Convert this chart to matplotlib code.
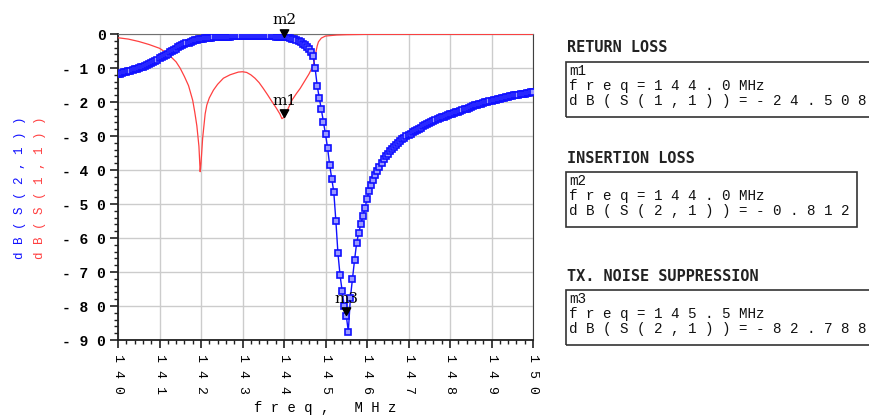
import numpy as np
import matplotlib
matplotlib.use('Agg')
import matplotlib.pyplot as plt
from matplotlib.patches import Rectangle
from matplotlib.ticker import MultipleLocator, FixedLocator, FixedFormatter

# frequency grid of the S21 sweep (MHz)
freq21 = np.round(np.arange(140.0, 150.001, 0.05), 2)

# dB(S(2,1)), one value per freq21 point
s21 = [
    -11.8, -11.7, -11.5, -11.3, -11.2, -11.0, -10.8, -10.6, -10.4, -10.2,
    -10.0, -9.8, -9.6, -9.3, -9.1, -8.8, -8.5, -8.2, -7.9, -7.5,
    -7.2, -6.8, -6.5, -6.1, -5.8, -5.4, -5.0, -4.6, -4.3, -3.9,
    -3.6, -3.3, -3.0, -2.7, -2.5, -2.3, -2.1, -1.9, -1.7, -1.6,
    -1.5, -1.4, -1.3, -1.2, -1.1, -1.1, -1.0, -1.0, -0.9, -0.9,
    -0.9, -0.8, -0.8, -0.8, -0.8, -0.7, -0.7, -0.7, -0.7, -0.7,
    -0.7, -0.7, -0.7, -0.7, -0.7, -0.7, -0.7, -0.7, -0.7, -0.7,
    -0.7, -0.7, -0.7, -0.7, -0.7, -0.7, -0.8, -0.8, -0.8, -0.8,
    -0.8, -0.9, -1.0, -1.2, -1.4, -1.6, -1.8, -2.0, -2.4, -2.8,
    -3.2, -3.8, -4.5, -5.4, -6.6, -10.1, -15.2, -18.8, -22.2, -25.8,
    -29.5, -33.5, -38.5, -42.5, -46.5, -55.0, -64.5, -70.9, -75.5, -80.0,
    -82.8, -87.5, -77.5, -72.0, -66.5, -61.5, -58.5, -56.0, -53.5, -51.3,
    -48.5, -46.2, -44.5, -42.9, -41.5, -40.2, -39.0, -37.9, -36.9, -36.0,
    -35.2, -34.5, -33.8, -33.2, -32.6, -32.0, -31.5, -31.0, -30.5, -30.1,
    -29.7, -29.3, -28.9, -28.5, -28.2, -27.8, -27.5, -27.2, -26.9, -26.6,
    -26.3, -26.0, -25.7, -25.4, -25.1, -24.8, -24.5, -24.3, -24.0, -23.8,
    -23.6, -23.4, -23.2, -23.0, -22.8, -22.6, -22.4, -22.2, -22.0, -21.8,
    -21.4, -21.2, -21.0, -20.8, -20.6, -20.5, -20.3, -20.1, -19.9, -19.8,
    -19.6, -19.4, -19.3, -19.1, -19.0, -18.8, -18.7, -18.6, -18.4, -18.3,
    -18.2, -18.0, -17.9, -17.8, -17.7, -17.6, -17.5, -17.4, -17.3, -17.2,
    -17.2,
]

# dB(S(1,1))
freq11 = [140.0, 140.25, 140.5, 140.75, 141.0, 141.2, 141.4, 141.5, 141.6, 141.7,
          141.8, 141.85, 141.9, 141.95, 141.98, 142.0, 142.04, 142.1, 142.14, 142.2,
          142.3, 142.4, 142.54, 142.7, 142.9, 143.0, 143.1, 143.2, 143.3, 143.4,
          143.5, 143.6, 143.7, 143.82, 143.9, 143.95, 144.0, 144.05, 144.1, 144.2,
          144.3, 144.39, 144.5, 144.6, 144.67, 144.72, 144.75, 144.8, 144.83, 144.9,
          145.0, 145.27, 145.5, 146.0, 147.0, 148.0, 149.0, 150.0]
s11 = [-1.1, -1.5, -2.2, -3.1, -4.2, -5.8, -8.2, -10.1, -12.5, -15.2,
       -19.5, -23.0, -27.0, -33.0, -40.5, -38.0, -30.6, -23.5, -20.9, -18.8,
       -16.5, -14.8, -13.0, -12.0, -11.2, -11.1, -11.3, -12.0, -13.0, -14.3,
       -16.0, -17.8, -19.7, -21.9, -23.5, -24.9, -24.5, -23.5, -21.9, -19.3,
       -17.5, -16.0, -13.8, -11.8, -10.1, -8.5, -6.5, -3.5, -2.3, -1.2,
       -0.6, -0.3, -0.2, -0.1, -0.1, -0.1, -0.1, -0.1]

# markers: name, freq, value, trace
mk_names = ['m1', 'm2', 'm3']
mk_freq = [144.0, 144.0, 145.5]
mk_vals = [-24.508, -0.812, -82.788]
mk_traces = ['dB(S(1,1))', 'dB(S(2,1))', 'dB(S(2,1))']
mk_titles = ['RETURN LOSS', 'INSERTION LOSS', 'TX. NOISE SUPPRESSION']

xticks = list(range(140, 151))
yticks = list(range(0, -91, -10))
ytick_labels = ['0', '- 1 0', '- 2 0', '- 3 0', '- 4 0', '- 5 0', '- 6 0', '- 7 0', '- 8 0', '- 9 0']
xtick_labels = [' '.join(str(v)) for v in xticks]


def spaced(s):
    return ' '.join(s)


BLUE = '#1010ff'
RED = '#ff4040'

fig = plt.figure(figsize=(8.7, 4.19), dpi=100)
ax = fig.add_axes([118 / 870, 1 - 340 / 419, (533 - 118) / 870, (340 - 34) / 419])

ax.plot(freq11, s11, color=RED, lw=0.9, zorder=3)
ax.plot(freq21, s21, color=BLUE, lw=1.0, marker='s', markersize=4.6,
        markerfacecolor='#9a9aff', markeredgecolor=BLUE, markeredgewidth=1.2, zorder=4)

tri = [(0, 0), (-0.55, 1), (0.55, 1), (0, 0)]
for name, f, v in zip(mk_names, mk_freq, mk_vals):
    ax.plot([f], [v], marker=tri, markersize=11, color='black', zorder=6, clip_on=False)
    ax.annotate(name, (f, v), xytext=(0, 7), textcoords='offset points',
                ha='center', va='bottom', fontsize=11, family='DejaVu Serif', zorder=7,
                annotation_clip=False)

ax.set_xlim(140, 150)
ax.set_ylim(-90, 0)
ax.xaxis.set_major_locator(FixedLocator(xticks))
ax.xaxis.set_major_formatter(FixedFormatter(xtick_labels))
ax.yaxis.set_major_locator(FixedLocator(yticks))
ax.yaxis.set_major_formatter(FixedFormatter(ytick_labels))
ax.xaxis.set_minor_locator(MultipleLocator(0.2))
ax.yaxis.set_minor_locator(MultipleLocator(2))
ax.tick_params(which='major', direction='out', length=6, width=1.2, color='#202020')
ax.tick_params(which='minor', direction='out', length=3, width=1.0, color='#202020')
ax.tick_params(axis='x', which='major', pad=4, labelrotation=270)
ax.tick_params(axis='y', which='major', pad=3)
for lab in ax.get_xticklabels():
    lab.set_family('Liberation Mono')
    lab.set_fontsize(9.5)
    lab.set_va('top')
for lab in ax.get_yticklabels():
    lab.set_family('Liberation Mono')
    lab.set_fontsize(10.5)
    lab.set_fontweight('bold')
ax.grid(True, which='major', color='#cccccc', lw=1.0)
ax.set_axisbelow(True)
for side in ['left', 'bottom']:
    ax.spines[side].set_color('#202020')
    ax.spines[side].set_linewidth(1.3)
ax.spines['top'].set_color('#707070')
ax.spines['right'].set_color('#404040')

fig.text(325 / 870, 1 - 408 / 419, spaced('freq,') + '   ' + spaced('MHz'),
         ha='center', va='center', fontsize=10, family='Liberation Mono')
fig.text(20 / 870, 1 - 188 / 419, spaced('dB(S(2,1))'), color=BLUE, rotation=90,
         ha='center', va='center', fontsize=9, family='Liberation Mono')
fig.text(40 / 870, 1 - 188 / 419, spaced('dB(S(1,1))'), color=RED, rotation=90,
         ha='center', va='center', fontsize=9, family='Liberation Mono')

# marker readout boxes
title_y = [48, 158, 276]
box_top = [62, 172, 290]
box_right = [900, 857, 900]
for i in range(3):
    fig.text(567 / 870, 1 - title_y[i] / 419, mk_titles[i], ha='left', va='center',
             fontsize=11, family='DejaVu Sans Mono', fontweight='bold', color='#222222')
    top = box_top[i]
    fig.patches.append(Rectangle((566 / 870, 1 - (top + 55) / 419),
                                 (box_right[i] - 566) / 870, 55 / 419,
                                 transform=fig.transFigure, fill=False,
                                 edgecolor='#333333', lw=1.2))
    lines = [mk_names[i],
             spaced('freq=%.1f' % mk_freq[i]) + ' MHz',
             spaced('%s=%.3f' % (mk_traces[i], mk_vals[i]))]
    for j, t in enumerate(lines):
        fig.text(569 / 870, 1 - (top + 9 + 15 * j) / 419, t, ha='left', va='center',
                 fontsize=10.3, family='Liberation Mono', color='#111111')

fig.savefig('out.png', dpi=100)
